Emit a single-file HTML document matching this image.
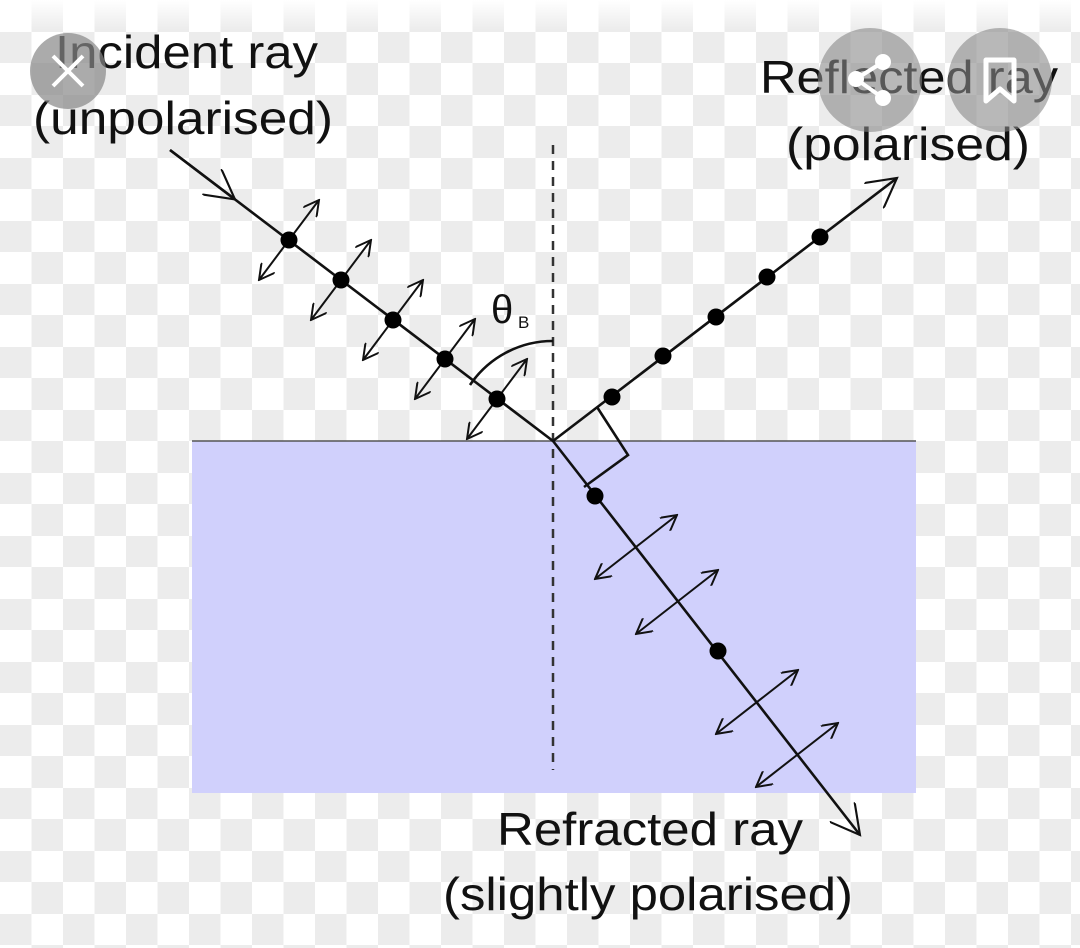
<!DOCTYPE html>
<html><head><style>
html,body{margin:0;padding:0;width:1080px;height:948px;overflow:hidden;background:#fff}
svg{display:block}
text{font-family:"Liberation Sans",sans-serif;fill:#111}
</style></head><body>
<svg width="1080" height="948" viewBox="0 0 1080 948" xmlns="http://www.w3.org/2000/svg">
<defs>
<pattern id="ck" x="0" y="0" width="63" height="63" patternUnits="userSpaceOnUse">
<rect width="63" height="63" fill="#ffffff"/>
<rect x="0" y="32" width="31.5" height="31.5" fill="#ececec"/>
<rect x="31.5" y="0" width="31.5" height="32" fill="#ececec"/>
</pattern>
<marker id="ah" viewBox="0 0 12 12" refX="11" refY="6" markerWidth="17" markerHeight="17" markerUnits="userSpaceOnUse" orient="auto-start-reverse">
<path d="M0,0 L11,6 L0,12" fill="none" stroke="#111" stroke-width="1.4"/>
</marker>
<marker id="ahb" viewBox="0 0 12 12" refX="11" refY="6" markerWidth="32" markerHeight="32" markerUnits="userSpaceOnUse" orient="auto">
<path d="M0,0 L11,6 L0,12" fill="none" stroke="#111" stroke-width="0.8"/>
</marker>
<linearGradient id="tg" x1="0" y1="0" x2="0" y2="1">
<stop offset="0" stop-color="#fff" stop-opacity="1"/>
<stop offset="1" stop-color="#fff" stop-opacity="0"/>
</linearGradient>
</defs>
<rect width="1080" height="948" fill="url(#ck)"/>
<rect width="1080" height="30" fill="url(#tg)"/>
<rect x="192" y="441" width="724" height="352" fill="#d0d0fc"/>
<line x1="192" y1="441" x2="916" y2="441" stroke="#555" stroke-width="1.5"/>
<line x1="553" y1="145" x2="553" y2="770" stroke="#333" stroke-width="2.5" stroke-dasharray="9,7"/>
<g stroke="#111" stroke-width="2.6" fill="none">
<line x1="170" y1="150" x2="553" y2="441"/>
<line x1="170" y1="150" x2="235" y2="199.4" marker-end="url(#ahb)"/>
<line x1="553" y1="441" x2="897" y2="178" marker-end="url(#ahb)"/>
<line x1="553" y1="441" x2="860" y2="835" marker-end="url(#ahb)"/>
<path d="M470,385 A100,100 0 0 1 553,341"/>
<path d="M597,407 L628,455 L584,487"/>
</g>
<g stroke="#111" stroke-width="2" marker-start="url(#ah)" marker-end="url(#ah)">
<line x1="259" y1="280" x2="319" y2="200"/>
<line x1="311" y1="320" x2="371" y2="240"/>
<line x1="363" y1="360" x2="423" y2="280"/>
<line x1="415" y1="399" x2="475" y2="319"/>
<line x1="467" y1="439" x2="527" y2="359"/>
<line x1="595" y1="579" x2="677" y2="515"/>
<line x1="636" y1="634" x2="718" y2="570"/>
<line x1="716" y1="734" x2="798" y2="670"/>
<line x1="756" y1="787" x2="838" y2="723"/>
</g>
<g fill="#000">
<circle cx="289" cy="240" r="8.5"/><circle cx="341" cy="280" r="8.5"/><circle cx="393" cy="320" r="8.5"/><circle cx="445" cy="359" r="8.5"/><circle cx="497" cy="399" r="8.5"/>
<circle cx="612" cy="397" r="8.5"/><circle cx="663" cy="356" r="8.5"/><circle cx="716" cy="317" r="8.5"/><circle cx="767" cy="277" r="8.5"/><circle cx="820" cy="237" r="8.5"/>
<circle cx="595" cy="496" r="8.5"/><circle cx="718" cy="651" r="8.5"/>
</g>
<text x="491" y="323" font-size="40">θ</text><text x="518" y="328" font-size="17">B</text>
<text x="55" y="68" font-size="46" textLength="263" lengthAdjust="spacingAndGlyphs">Incident ray</text>
<text x="33" y="134" font-size="46" textLength="300" lengthAdjust="spacingAndGlyphs">(unpolarised)</text>
<text x="760" y="93" font-size="46" textLength="298" lengthAdjust="spacingAndGlyphs">Reflected ray</text>
<text x="786" y="160" font-size="46" textLength="244" lengthAdjust="spacingAndGlyphs">(polarised)</text>
<text x="497" y="845" font-size="46" textLength="306" lengthAdjust="spacingAndGlyphs">Refracted ray</text>
<text x="443" y="910" font-size="46" textLength="410" lengthAdjust="spacingAndGlyphs">(slightly polarised)</text>
<circle cx="68" cy="71" r="38" fill="#888" fill-opacity="0.7"/>
<g stroke="#fff" stroke-width="4"><line x1="53" y1="56" x2="83" y2="86"/><line x1="83" y1="56" x2="53" y2="86"/></g>
<circle cx="870" cy="80" r="52" fill="#888" fill-opacity="0.6"/>
<g stroke="#fff" stroke-width="4" fill="#fff"><line x1="883" y1="62" x2="856" y2="79"/><line x1="856" y1="79" x2="883" y2="98"/><circle cx="883" cy="62" r="6"/><circle cx="856" cy="79" r="6"/><circle cx="883" cy="98" r="6"/></g>
<circle cx="1000" cy="80" r="52" fill="#888" fill-opacity="0.6"/>
<path d="M986,60 L1014,60 L1014,101 L1000,89 L986,101 Z" fill="none" stroke="#fff" stroke-width="5" stroke-linejoin="round"/>
</svg>
</body></html>
